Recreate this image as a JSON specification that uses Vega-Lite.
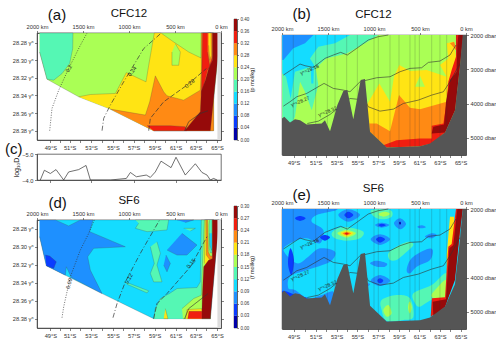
{"$schema":"https://vega.github.io/schema/vega-lite/v6.json","padding":{"left":4,"top":6,"right":0,"bottom":0},"spacing":14,
"config":{"font":"Liberation Sans","axis":{"labelFont":"Liberation Sans","labelFontSize":5.7,"labelColor":"#333","domainColor":"#333","tickColor":"#333","tickSize":2.5,"domainWidth":0.7,"tickWidth":0.6,"labelPadding":1.5,"grid":false,"title":null,"labelFlush":false,"labelOverlap":false}},
"datasets":{
"stA":[{"km":1898},{"km":1783},{"km":1659},{"km":1536},{"km":1413},{"km":1283},{"km":1167},{"km":1036},{"km":927},{"km":819},{"km":725},{"km":601},{"km":543},{"km":493},{"km":399},{"km":275},{"km":217},{"km":116}],
"stB":[{"km":1877},{"km":1634},{"km":1507},{"km":1424},{"km":1297},{"km":1181},{"km":1000},{"km":953},{"km":826},{"km":728},{"km":609},{"km":554},{"km":507},{"km":373},{"km":283},{"km":210},{"km":101},{"km":58}],
"cbA":[{"lo":0,"hi":0.04,"v":0.02},{"lo":0.04,"hi":0.08,"v":0.06},{"lo":0.08,"hi":0.12,"v":0.1},{"lo":0.12,"hi":0.16,"v":0.14},{"lo":0.16,"hi":0.2,"v":0.18},{"lo":0.2,"hi":0.24,"v":0.22},{"lo":0.24,"hi":0.28,"v":0.26},{"lo":0.28,"hi":0.32,"v":0.3},{"lo":0.32,"hi":0.36,"v":0.34},{"lo":0.36,"hi":0.4,"v":0.38}],
"cbD":[{"lo":0,"hi":0.03,"v":0.015},{"lo":0.03,"hi":0.06,"v":0.045},{"lo":0.06,"hi":0.09,"v":0.075},{"lo":0.09,"hi":0.12,"v":0.105},{"lo":0.12,"hi":0.15,"v":0.135},{"lo":0.15,"hi":0.18,"v":0.165},{"lo":0.18,"hi":0.21,"v":0.195},{"lo":0.21,"hi":0.24,"v":0.225},{"lo":0.24,"hi":0.27,"v":0.255},{"lo":0.27,"hi":0.3,"v":0.285}],
"logD":[{"km":1964,"logD":-4},{"km":1920,"logD":-4.375},{"km":1855,"logD":-4.25},{"km":1793,"logD":-4.4},{"km":1710,"logD":-4},{"km":1656,"logD":-4.31},{"km":1547,"logD":-4.4},{"km":1467,"logD":-4.56},{"km":1420,"logD":-4},{"km":1203,"logD":-4},{"km":1029,"logD":-4.06},{"km":985,"logD":-4.29},{"km":920,"logD":-4.125},{"km":812,"logD":-4.19},{"km":768,"logD":-4.1},{"km":714,"logD":-4.31},{"km":652,"logD":-4.725},{"km":543,"logD":-4.475},{"km":489,"logD":-4.875},{"km":388,"logD":-4.19},{"km":279,"logD":-4.625},{"km":207,"logD":-4.29},{"km":152,"logD":-4.19},{"km":116,"logD":-4},{"km":80,"logD":-4.06},{"km":43,"logD":-4}],
"isoA":[{"k":"d","km":1862,"s":28.38},{"k":"d","km":1837,"s":28.3547},{"k":"d","km":1764,"s":28.334},{"k":"d","km":1656,"s":28.3094},{"k":"d","km":1529,"s":28.283},{"k":"d","km":1456,"s":28.269},
{"k":"m","km":1293,"s":28.38},{"k":"m","km":1275,"s":28.366},{"k":"m","km":1203,"s":28.351},{"k":"m","km":1058,"s":28.3245},{"k":"m","km":841,"s":28.2868},{"k":"m","km":649,"s":28.269},
{"k":"h","km":786,"s":28.38},{"k":"h","km":768,"s":28.366},{"k":"h","km":623,"s":28.3472},{"k":"h","km":370,"s":28.3283},{"k":"h","km":159,"s":28.3094},
{"k":"s","km":395,"s":28.38},{"k":"s","km":351,"s":28.3698},{"k":"s","km":225,"s":28.3604},{"k":"s","km":141,"s":28.3574}],
"isoD":[{"k":"d","km":1728,"s":28.3789},{"k":"d","km":1710,"s":28.3669},{"k":"d","km":1638,"s":28.3334},{"k":"d","km":1529,"s":28.3035},{"k":"d","km":1438,"s":28.2849},{"k":"d","km":1377,"s":28.2699},
{"k":"m","km":1174,"s":28.3789},{"k":"m","km":1130,"s":28.3632},{"k":"m","km":1040,"s":28.339},{"k":"m","km":877,"s":28.3072},{"k":"m","km":667,"s":28.2699},
{"k":"h","km":732,"s":28.38},{"k":"h","km":696,"s":28.3632},{"k":"h","km":587,"s":28.352},{"k":"h","km":333,"s":28.3222},{"k":"h","km":152,"s":28.2886},
{"k":"s","km":395,"s":28.38},{"k":"s","km":351,"s":28.3688},{"k":"s","km":141,"s":28.352}],
"iso":[{"k":"28.18","km":1985,"d":3169},{"k":"28.18","km":1804,"d":2847},{"k":"28.18","km":1750,"d":2896},{"k":"28.18","km":1659,"d":2945},{"k":"28.18","km":1533,"d":2682},{"k":"28.18","km":1442,"d":2584},{"k":"28.18","km":1362,"d":2506},{"k":"28.18","km":1290,"d":2584},{"k":"28.18","km":1188,"d":2390},{"k":"28.18","km":1062,"d":2146},{"k":"28.18","km":953,"d":2049},{"k":"28.18","km":844,"d":2000},
{"k":"28.27","km":1985,"d":4075},{"k":"28.27","km":1913,"d":3948},{"k":"28.27","km":1840,"d":3802},{"k":"28.27","km":1732,"d":3705},{"k":"28.27","km":1543,"d":3412},{"k":"28.27","km":1442,"d":3558},{"k":"28.27","km":1333,"d":3607},{"k":"28.27","km":1261,"d":3656},{"k":"28.27","km":1152,"d":3364},{"k":"28.27","km":971,"d":3247},{"k":"28.27","km":826,"d":3218},{"k":"28.27","km":717,"d":3071},{"k":"28.27","km":609,"d":2974},{"k":"28.27","km":482,"d":2955},{"k":"28.27","km":409,"d":2799},{"k":"28.27","km":283,"d":2760},{"k":"28.27","km":174,"d":2584},{"k":"28.27","km":109,"d":2292},
{"k":"28.32","km":1725,"d":4581},{"k":"28.32","km":1605,"d":4513},{"k":"28.32","km":1478,"d":4318},{"k":"28.32","km":1261,"d":3851},{"k":"28.32","km":1098,"d":3899},{"k":"28.32","km":1062,"d":4094},{"k":"28.32","km":935,"d":4221},{"k":"28.32","km":790,"d":4162},{"k":"28.32","km":681,"d":3997},{"k":"28.32","km":518,"d":3899},{"k":"28.32","km":373,"d":3753},{"k":"28.32","km":246,"d":3656},{"k":"28.32","km":174,"d":3364},{"k":"28.32","km":65,"d":2828}],
"isoLbl":[{"km":1703,"d":3003,"t":"γⁿ=28.18"},{"km":1804,"d":3929,"t":"γⁿ=28.27"},{"km":1507,"d":4221,"t":"γⁿ=28.32"}],
"topo":[{"i":1,"km":2000,"d":4435},{"i":2,"km":1975,"d":4386},{"i":3,"km":1913,"d":4552},{"i":4,"km":1859,"d":4454},{"i":5,"km":1804,"d":4484},{"i":6,"km":1732,"d":4610},{"i":7,"km":1569,"d":4581},{"i":8,"km":1533,"d":4484},{"i":9,"km":1478,"d":4805},{"i":10,"km":1398,"d":4045},{"i":11,"km":1333,"d":3636},{"i":12,"km":1290,"d":3607},{"i":13,"km":1225,"d":4454},{"i":14,"km":1145,"d":3315},{"i":15,"km":1098,"d":3286},{"i":16,"km":1043,"d":4825},{"i":17,"km":862,"d":5282},{"i":18,"km":500,"d":5243},{"i":19,"km":391,"d":5166},{"i":20,"km":228,"d":4844},{"i":21,"km":120,"d":4192},{"i":22,"km":65,"d":2877},{"i":23,"km":36,"d":2000},{"i":24,"km":0,"d":2000},{"i":25,"km":0,"d":5500},{"i":26,"km":2000,"d":5500}],
"polyA":[
{"p":"g","i":1,"km":1971,"s":28.269,"v":0.22},{"p":"g","i":2,"km":7,"s":28.269,"v":0.22},{"p":"g","i":3,"km":116,"s":28.38,"v":0.22},{"p":"g","i":4,"km":732,"s":28.38,"v":0.22},{"p":"g","i":5,"km":1203,"s":28.3555,"v":0.22},{"p":"g","i":6,"km":1547,"s":28.3415,"v":0.22},{"p":"g","i":7,"km":1891,"s":28.3215,"v":0.22},{"p":"g","i":8,"km":1971,"s":28.2906,"v":0.22},
{"p":"m","i":1,"km":1971,"s":28.269,"v":0.18},{"p":"m","i":2,"km":1609,"s":28.269,"v":0.18},{"p":"m","i":3,"km":1612,"s":28.2868,"v":0.18},{"p":"m","i":4,"km":1645,"s":28.3038,"v":0.18},{"p":"m","i":5,"km":1728,"s":28.3151,"v":0.18},{"p":"m","i":6,"km":1819,"s":28.3226,"v":0.18},{"p":"m","i":7,"km":1891,"s":28.3215,"v":0.18},{"p":"m","i":8,"km":1971,"s":28.2906,"v":0.18},
{"p":"y","i":1,"km":1547,"s":28.3415,"v":0.26},{"p":"y","i":2,"km":1420,"s":28.3389,"v":0.26},{"p":"y","i":3,"km":1148,"s":28.3377,"v":0.26},{"p":"y","i":4,"km":1029,"s":28.314,"v":0.26},{"p":"y","i":5,"km":815,"s":28.3245,"v":0.26},{"p":"y","i":6,"km":786,"s":28.3057,"v":0.26},{"p":"y","i":7,"km":725,"s":28.269,"v":0.26},{"p":"y","i":8,"km":652,"s":28.269,"v":0.26},{"p":"y","i":9,"km":514,"s":28.2792,"v":0.26},{"p":"y","i":10,"km":351,"s":28.2906,"v":0.26},{"p":"y","i":11,"km":217,"s":28.2974,"v":0.26},{"p":"y","i":12,"km":214,"s":28.269,"v":0.26},{"p":"y","i":13,"km":80,"s":28.269,"v":0.26},{"p":"y","i":14,"km":80,"s":28.38,"v":0.26},{"p":"y","i":15,"km":732,"s":28.38,"v":0.26},{"p":"y","i":16,"km":1203,"s":28.3555,"v":0.26},
{"p":"gb","i":1,"km":496,"s":28.2811,"v":0.22},{"p":"gb","i":2,"km":442,"s":28.2906,"v":0.22},{"p":"gb","i":3,"km":460,"s":28.3057,"v":0.22},{"p":"gb","i":4,"km":533,"s":28.3057,"v":0.22},{"p":"gb","i":5,"km":533,"s":28.2906,"v":0.22},
{"p":"o","i":1,"km":1203,"s":28.3555,"v":0.3},{"p":"o","i":2,"km":822,"s":28.3623,"v":0.3},{"p":"o","i":3,"km":775,"s":28.3472,"v":0.3},{"p":"o","i":4,"km":714,"s":28.3177,"v":0.3},{"p":"o","i":5,"km":623,"s":28.3358,"v":0.3},{"p":"o","i":6,"km":587,"s":28.3404,"v":0.3},{"p":"o","i":7,"km":406,"s":28.3453,"v":0.3},{"p":"o","i":8,"km":225,"s":28.334,"v":0.3},{"p":"o","i":9,"km":214,"s":28.3094,"v":0.3},{"p":"o","i":10,"km":214,"s":28.269,"v":0.3},{"p":"o","i":11,"km":80,"s":28.269,"v":0.3},{"p":"o","i":12,"km":80,"s":28.38,"v":0.3},{"p":"o","i":13,"km":732,"s":28.38,"v":0.3},
{"p":"r1","i":1,"km":804,"s":28.3743,"v":0.34},{"p":"r1","i":2,"km":551,"s":28.3743,"v":0.34},{"p":"r1","i":3,"km":388,"s":28.3755,"v":0.34},{"p":"r1","i":4,"km":370,"s":28.38,"v":0.34},{"p":"r1","i":5,"km":732,"s":28.38,"v":0.34},
{"p":"r2","i":1,"km":214,"s":28.34,"v":0.34},{"p":"r2","i":2,"km":200,"s":28.269,"v":0.34},{"p":"r2","i":3,"km":91,"s":28.269,"v":0.34},{"p":"r2","i":4,"km":91,"s":28.302,"v":0.34},{"p":"r2","i":5,"km":145,"s":28.311,"v":0.34},
{"p":"o2","i":1,"km":145,"s":28.269,"v":0.3},{"p":"o2","i":2,"km":91,"s":28.269,"v":0.3},{"p":"o2","i":3,"km":91,"s":28.295,"v":0.3},{"p":"o2","i":4,"km":123,"s":28.3057,"v":0.3},{"p":"o2","i":5,"km":145,"s":28.2906,"v":0.3},
{"p":"y2","i":1,"km":134,"s":28.269,"v":0.26},{"p":"y2","i":2,"km":109,"s":28.269,"v":0.26},{"p":"y2","i":3,"km":105,"s":28.2943,"v":0.26},{"p":"y2","i":4,"km":123,"s":28.3,"v":0.26},{"p":"y2","i":5,"km":134,"s":28.283,"v":0.26},
{"p":"dr","i":1,"km":395,"s":28.38,"v":0.38},{"p":"dr","i":2,"km":225,"s":28.3585,"v":0.38},{"p":"dr","i":3,"km":214,"s":28.3351,"v":0.38},{"p":"dr","i":4,"km":170,"s":28.3226,"v":0.38},{"p":"dr","i":5,"km":134,"s":28.3094,"v":0.38},{"p":"dr","i":6,"km":91,"s":28.3,"v":0.38},{"p":"dr","i":7,"km":91,"s":28.269,"v":0.38},{"p":"dr","i":8,"km":7,"s":28.269,"v":0.38},{"p":"dr","i":9,"km":116,"s":28.38,"v":0.38}],
"polyD":[
{"p":"c","i":1,"km":1971,"s":28.2699,"v":0.105},{"p":"c","i":2,"km":25,"s":28.2699,"v":0.105},{"p":"c","i":3,"km":116,"s":28.38,"v":0.105},{"p":"c","i":4,"km":732,"s":28.38,"v":0.105},{"p":"c","i":5,"km":1293,"s":28.352,"v":0.105},{"p":"c","i":6,"km":1898,"s":28.321,"v":0.105},{"p":"c","i":7,"km":1971,"s":28.2886,"v":0.105},
{"p":"b","i":1,"km":1971,"s":28.2699,"v":0.075},{"p":"b","i":2,"km":1801,"s":28.2699,"v":0.075},{"p":"b","i":3,"km":1656,"s":28.2766,"v":0.075},{"p":"b","i":4,"km":1529,"s":28.2699,"v":0.075},{"p":"b","i":5,"km":1391,"s":28.2699,"v":0.075},{"p":"b","i":6,"km":1427,"s":28.283,"v":0.075},{"p":"b","i":7,"km":1040,"s":28.2998,"v":0.075},{"p":"b","i":8,"km":1384,"s":28.3016,"v":0.075},{"p":"b","i":9,"km":1449,"s":28.311,"v":0.075},{"p":"b","i":10,"km":1420,"s":28.3259,"v":0.075},{"p":"b","i":11,"km":1293,"s":28.352,"v":0.075},{"p":"b","i":12,"km":1627,"s":28.3341,"v":0.075},{"p":"b","i":13,"km":1681,"s":28.3222,"v":0.075},{"p":"b","i":14,"km":1692,"s":28.3315,"v":0.075},{"p":"b","i":15,"km":1898,"s":28.321,"v":0.075},{"p":"b","i":16,"km":1971,"s":28.2886,"v":0.075},
{"p":"n","i":1,"km":1909,"s":28.3091,"v":0.045},{"p":"n","i":2,"km":1862,"s":28.3102,"v":0.045},{"p":"n","i":3,"km":1790,"s":28.3166,"v":0.045},{"p":"n","i":4,"km":1819,"s":28.324,"v":0.045},{"p":"n","i":5,"km":1898,"s":28.321,"v":0.045},
{"p":"m1","i":1,"km":931,"s":28.2699,"v":0.135},{"p":"m1","i":2,"km":569,"s":28.2699,"v":0.135},{"p":"m1","i":3,"km":587,"s":28.2811,"v":0.135},{"p":"m1","i":4,"km":804,"s":28.283,"v":0.135},{"p":"m1","i":5,"km":931,"s":28.2793,"v":0.135},{"p":"m1","i":6,"km":895,"s":28.2737,"v":0.135},
{"p":"m2","i":1,"km":696,"s":28.2942,"v":0.135},{"p":"m2","i":2,"km":659,"s":28.3072,"v":0.135},{"p":"m2","i":3,"km":696,"s":28.3203,"v":0.135},{"p":"m2","i":4,"km":641,"s":28.339,"v":0.135},{"p":"m2","i":5,"km":732,"s":28.339,"v":0.135},{"p":"m2","i":6,"km":768,"s":28.3296,"v":0.135},{"p":"m2","i":7,"km":725,"s":28.3184,"v":0.135},{"p":"m2","i":8,"km":768,"s":28.2998,"v":0.135},
{"p":"m3","i":1,"km":1040,"s":28.339,"v":0.135},{"p":"m3","i":2,"km":786,"s":28.349,"v":0.135},{"p":"m3","i":3,"km":804,"s":28.3513,"v":0.135},{"p":"m3","i":4,"km":1022,"s":28.3416,"v":0.135},
{"p":"m4","i":1,"km":732,"s":28.38,"v":0.135},{"p":"m4","i":2,"km":714,"s":28.3688,"v":0.135},{"p":"m4","i":3,"km":659,"s":28.3576,"v":0.135},{"p":"m4","i":4,"km":551,"s":28.3513,"v":0.135},{"p":"m4","i":5,"km":478,"s":28.3464,"v":0.135},{"p":"m4","i":6,"km":261,"s":28.3453,"v":0.135},{"p":"m4","i":7,"km":225,"s":28.339,"v":0.135},{"p":"m4","i":8,"km":214,"s":28.2699,"v":0.135},{"p":"m4","i":9,"km":80,"s":28.2699,"v":0.135},{"p":"m4","i":10,"km":116,"s":28.38,"v":0.135},
{"p":"m5","i":1,"km":406,"s":28.2793,"v":0.135},{"p":"m5","i":2,"km":279,"s":28.2793,"v":0.135},{"p":"m5","i":3,"km":333,"s":28.2822,"v":0.135},
{"p":"b1","i":1,"km":424,"s":28.2849,"v":0.075},{"p":"b1","i":2,"km":261,"s":28.2979,"v":0.075},{"p":"b1","i":3,"km":370,"s":28.3091,"v":0.075},{"p":"b1","i":4,"km":478,"s":28.3091,"v":0.075},{"p":"b1","i":5,"km":587,"s":28.3035,"v":0.075},
{"p":"b2","i":1,"km":598,"s":28.3091,"v":0.075},{"p":"b2","i":2,"km":551,"s":28.3184,"v":0.075},{"p":"b2","i":3,"km":587,"s":28.3278,"v":0.075},{"p":"b2","i":4,"km":623,"s":28.3203,"v":0.075},
{"p":"b3","i":1,"km":478,"s":28.2699,"v":0.075},{"p":"b3","i":2,"km":297,"s":28.2699,"v":0.075},{"p":"b3","i":3,"km":388,"s":28.2729,"v":0.075},
{"p":"l1","i":1,"km":424,"s":28.3688,"v":0.165},{"p":"l1","i":2,"km":297,"s":28.3576,"v":0.165},{"p":"l1","i":3,"km":214,"s":28.3539,"v":0.165},{"p":"l1","i":4,"km":203,"s":28.3222,"v":0.165},{"p":"l1","i":5,"km":181,"s":28.2699,"v":0.165},{"p":"l1","i":6,"km":80,"s":28.2699,"v":0.165},{"p":"l1","i":7,"km":116,"s":28.38,"v":0.165},{"p":"l1","i":8,"km":413,"s":28.38,"v":0.165},
{"p":"y0","i":1,"km":605,"s":28.3688,"v":0.195},{"p":"y0","i":2,"km":576,"s":28.38,"v":0.195},{"p":"y0","i":3,"km":623,"s":28.38,"v":0.195},
{"p":"y1","i":1,"km":181,"s":28.3184,"v":0.195},{"p":"y1","i":2,"km":170,"s":28.2699,"v":0.195},{"p":"y1","i":3,"km":80,"s":28.2699,"v":0.195},{"p":"y1","i":4,"km":80,"s":28.322,"v":0.195},
{"p":"o1","i":1,"km":159,"s":28.2699,"v":0.225},{"p":"o1","i":2,"km":159,"s":28.3091,"v":0.225},{"p":"o1","i":3,"km":127,"s":28.3136,"v":0.225},{"p":"o1","i":4,"km":80,"s":28.3136,"v":0.225},{"p":"o1","i":5,"km":80,"s":28.2699,"v":0.225},
{"p":"l2","i":1,"km":145,"s":28.2699,"v":0.165},{"p":"l2","i":2,"km":138,"s":28.3054,"v":0.165},{"p":"l2","i":3,"km":116,"s":28.3102,"v":0.165},{"p":"l2","i":4,"km":94,"s":28.3102,"v":0.165},{"p":"l2","i":5,"km":94,"s":28.2699,"v":0.165},
{"p":"m6","i":1,"km":123,"s":28.2699,"v":0.135},{"p":"m6","i":2,"km":130,"s":28.2755,"v":0.135},{"p":"m6","i":3,"km":127,"s":28.3016,"v":0.135},{"p":"m6","i":4,"km":116,"s":28.3065,"v":0.135},{"p":"m6","i":5,"km":98,"s":28.3065,"v":0.135},{"p":"m6","i":6,"km":98,"s":28.2699,"v":0.135},
{"p":"c2","i":1,"km":123,"s":28.2849,"v":0.105},{"p":"c2","i":2,"km":120,"s":28.2979,"v":0.105},{"p":"c2","i":3,"km":105,"s":28.3035,"v":0.105},{"p":"c2","i":4,"km":98,"s":28.3035,"v":0.105},{"p":"c2","i":5,"km":98,"s":28.2849,"v":0.105},
{"p":"y2","i":1,"km":384,"s":28.38,"v":0.195},{"p":"y2","i":2,"km":370,"s":28.3699,"v":0.195},{"p":"y2","i":3,"km":207,"s":28.3688,"v":0.195},{"p":"y2","i":4,"km":207,"s":28.38,"v":0.195},
{"p":"r1","i":1,"km":362,"s":28.38,"v":0.255},{"p":"r1","i":2,"km":348,"s":28.3718,"v":0.255},{"p":"r1","i":3,"km":207,"s":28.3718,"v":0.255},{"p":"r1","i":4,"km":207,"s":28.38,"v":0.255},
{"p":"dr","i":1,"km":207,"s":28.3707,"v":0.285},{"p":"dr","i":2,"km":203,"s":28.3539,"v":0.285},{"p":"dr","i":3,"km":188,"s":28.3222,"v":0.285},{"p":"dr","i":4,"km":134,"s":28.3147,"v":0.285},{"p":"dr","i":5,"km":94,"s":28.3132,"v":0.285},{"p":"dr","i":6,"km":94,"s":28.2699,"v":0.285},{"p":"dr","i":7,"km":22,"s":28.2699,"v":0.285},{"p":"dr","i":8,"km":116,"s":28.38,"v":0.285},{"p":"dr","i":9,"km":207,"s":28.38,"v":0.285}],
"polyB":[
{"p":"g","i":1,"km":2000,"d":2000,"v":0.22},{"p":"g","i":2,"km":0,"d":2000,"v":0.22},{"p":"g","i":3,"km":0,"d":5500,"v":0.22},{"p":"g","i":4,"km":2000,"d":5500,"v":0.22},
{"p":"m","i":1,"km":1996,"d":2000,"v":0.18},{"p":"m","i":2,"km":953,"d":2000,"v":0.18},{"p":"m","i":3,"km":1098,"d":2244,"v":0.18},{"p":"m","i":4,"km":1297,"d":2536,"v":0.18},{"p":"m","i":5,"km":1522,"d":2682,"v":0.18},{"p":"m","i":6,"km":1634,"d":2974,"v":0.18},{"p":"m","i":7,"km":1605,"d":3461,"v":0.18},{"p":"m","i":8,"km":1677,"d":4192,"v":0.18},{"p":"m","i":9,"km":1750,"d":3656,"v":0.18},{"p":"m","i":10,"km":1804,"d":3364,"v":0.18},{"p":"m","i":11,"km":1859,"d":4386,"v":0.18},{"p":"m","i":12,"km":1895,"d":4581,"v":0.18},{"p":"m","i":13,"km":1996,"d":4581,"v":0.18},
{"p":"c","i":1,"km":1996,"d":2000,"v":0.14},{"p":"c","i":2,"km":1261,"d":2000,"v":0.14},{"p":"c","i":3,"km":1424,"d":2244,"v":0.14},{"p":"c","i":4,"km":1605,"d":2341,"v":0.14},{"p":"c","i":5,"km":1696,"d":2682,"v":0.14},{"p":"c","i":6,"km":1652,"d":2877,"v":0.14},{"p":"c","i":7,"km":1659,"d":3412,"v":0.14},{"p":"c","i":8,"km":1681,"d":3412,"v":0.14},{"p":"c","i":9,"km":1688,"d":2925,"v":0.14},{"p":"c","i":10,"km":1859,"d":3071,"v":0.14},{"p":"c","i":11,"km":1906,"d":3851,"v":0.14},{"p":"c","i":12,"km":1956,"d":3218,"v":0.14},{"p":"c","i":13,"km":1996,"d":3120,"v":0.14},
{"p":"b","i":1,"km":1996,"d":2000,"v":0.1},{"p":"b","i":2,"km":1659,"d":2000,"v":0.1},{"p":"b","i":3,"km":1750,"d":2244,"v":0.1},{"p":"b","i":4,"km":1877,"d":2390,"v":0.1},{"p":"b","i":5,"km":1985,"d":2730,"v":0.1},{"p":"b","i":6,"km":1996,"d":2730,"v":0.1},
{"p":"y","i":1,"km":1054,"d":4825,"v":0.26},{"p":"y","i":2,"km":1080,"d":4045,"v":0.26},{"p":"y","i":3,"km":942,"d":3412,"v":0.26},{"p":"y","i":4,"km":826,"d":3948,"v":0.26},{"p":"y","i":5,"km":783,"d":3218,"v":0.26},{"p":"y","i":6,"km":725,"d":2877,"v":0.26},{"p":"y","i":7,"km":609,"d":3052,"v":0.26},{"p":"y","i":8,"km":428,"d":3023,"v":0.26},{"p":"y","i":9,"km":210,"d":3218,"v":0.26},{"p":"y","i":10,"km":283,"d":2877,"v":0.26},{"p":"y","i":11,"km":192,"d":2682,"v":0.26},{"p":"y","i":12,"km":210,"d":2244,"v":0.26},{"p":"y","i":13,"km":138,"d":2195,"v":0.26},{"p":"y","i":14,"km":94,"d":2877,"v":0.26},{"p":"y","i":15,"km":174,"d":3948,"v":0.26},{"p":"y","i":16,"km":210,"d":4727,"v":0.26},{"p":"y","i":17,"km":862,"d":5282,"v":0.26},
{"p":"gh","i":1,"km":500,"d":3188,"v":0.22},{"p":"gh","i":2,"km":446,"d":3510,"v":0.22},{"p":"gh","i":3,"km":554,"d":3510,"v":0.22},
{"p":"o","i":1,"km":1051,"d":4581,"v":0.3},{"p":"o","i":2,"km":971,"d":4581,"v":0.3},{"p":"o","i":3,"km":826,"d":4805,"v":0.3},{"p":"o","i":4,"km":728,"d":3753,"v":0.3},{"p":"o","i":5,"km":609,"d":4123,"v":0.3},{"p":"o","i":6,"km":500,"d":4162,"v":0.3},{"p":"o","i":7,"km":210,"d":3948,"v":0.3},{"p":"o","i":8,"km":185,"d":3315,"v":0.3},{"p":"o","i":9,"km":109,"d":2925,"v":0.3},{"p":"o","i":10,"km":94,"d":2487,"v":0.3},{"p":"o","i":11,"km":174,"d":2244,"v":0.3},{"p":"o","i":12,"km":130,"d":2195,"v":0.3},{"p":"o","i":13,"km":83,"d":2584,"v":0.3},{"p":"o","i":14,"km":65,"d":2877,"v":0.3},{"p":"o","i":15,"km":120,"d":4192,"v":0.3},{"p":"o","i":16,"km":228,"d":4844,"v":0.3},{"p":"o","i":17,"km":373,"d":5166,"v":0.3},{"p":"o","i":18,"km":500,"d":5243,"v":0.3},{"p":"o","i":19,"km":862,"d":5282,"v":0.3},{"p":"o","i":20,"km":1043,"d":4825,"v":0.3},
{"p":"r","i":1,"km":899,"d":5214,"v":0.34},{"p":"r","i":2,"km":754,"d":5068,"v":0.34},{"p":"r","i":3,"km":500,"d":5019,"v":0.34},{"p":"r","i":4,"km":373,"d":5019,"v":0.34},{"p":"r","i":5,"km":373,"d":4649,"v":0.34},{"p":"r","i":6,"km":246,"d":4581,"v":0.34},{"p":"r","i":7,"km":210,"d":3948,"v":0.34},{"p":"r","i":8,"km":192,"d":3364,"v":0.34},{"p":"r","i":9,"km":156,"d":3023,"v":0.34},{"p":"r","i":10,"km":109,"d":2633,"v":0.34},{"p":"r","i":11,"km":109,"d":2000,"v":0.34},{"p":"r","i":12,"km":29,"d":2000,"v":0.34},{"p":"r","i":13,"km":65,"d":2877,"v":0.34},{"p":"r","i":14,"km":120,"d":4192,"v":0.34},{"p":"r","i":15,"km":228,"d":4844,"v":0.34},{"p":"r","i":16,"km":373,"d":5166,"v":0.34},{"p":"r","i":17,"km":500,"d":5243,"v":0.34},{"p":"r","i":18,"km":862,"d":5282,"v":0.34},
{"p":"dr","i":1,"km":373,"d":4873,"v":0.38},{"p":"dr","i":2,"km":355,"d":4679,"v":0.38},{"p":"dr","i":3,"km":239,"d":4610,"v":0.38},{"p":"dr","i":4,"km":217,"d":3948,"v":0.38},{"p":"dr","i":5,"km":174,"d":3315,"v":0.38},{"p":"dr","i":6,"km":101,"d":3071,"v":0.38},{"p":"dr","i":7,"km":94,"d":2292,"v":0.38},{"p":"dr","i":8,"km":83,"d":2000,"v":0.38},{"p":"dr","i":9,"km":29,"d":2000,"v":0.38},{"p":"dr","i":10,"km":65,"d":2877,"v":0.38},{"p":"dr","i":11,"km":120,"d":4192,"v":0.38},{"p":"dr","i":12,"km":228,"d":4844,"v":0.38}],
"polyE":[
{"p":"c","i":1,"km":2000,"d":2000,"v":0.105},{"p":"c","i":2,"km":0,"d":2000,"v":0.105},{"p":"c","i":3,"km":0,"d":5500,"v":0.105},{"p":"c","i":4,"km":2000,"d":5500,"v":0.105},
{"p":"a1","i":1,"km":1996,"d":2000,"v":0.075},{"p":"a1","i":2,"km":1406,"d":2000,"v":0.075},{"p":"a1","i":3,"km":1623,"d":2175,"v":0.075},{"p":"a1","i":4,"km":1677,"d":2369,"v":0.075},{"p":"a1","i":5,"km":1551,"d":2612,"v":0.075},{"p":"a1","i":6,"km":1587,"d":3001,"v":0.075},{"p":"a1","i":7,"km":1732,"d":2855,"v":0.075},{"p":"a1","i":8,"km":1877,"d":2953,"v":0.075},{"p":"a1","i":9,"km":1985,"d":3196,"v":0.075},{"p":"a1","i":10,"km":1840,"d":3584,"v":0.075},{"p":"a1","i":11,"km":1714,"d":3390,"v":0.075},{"p":"a1","i":12,"km":1587,"d":3147,"v":0.075},{"p":"a1","i":13,"km":1424,"d":3244,"v":0.075},{"p":"a1","i":14,"km":1478,"d":3536,"v":0.075},{"p":"a1","i":15,"km":1732,"d":3779,"v":0.075},{"p":"a1","i":16,"km":1913,"d":3973,"v":0.075},{"p":"a1","i":17,"km":1931,"d":4313,"v":0.075},{"p":"a1","i":18,"km":1859,"d":4362,"v":0.075},{"p":"a1","i":19,"km":1714,"d":4605,"v":0.075},{"p":"a1","i":20,"km":1569,"d":4508,"v":0.075},{"p":"a1","i":21,"km":1442,"d":4411,"v":0.075},{"p":"a1","i":22,"km":1478,"d":4848,"v":0.075},{"p":"a1","i":23,"km":1996,"d":4654,"v":0.075},
{"p":"a2","i":1,"km":1388,"d":2175,"v":0.075},{"p":"a2","i":2,"km":1279,"d":2010,"v":0.075},{"p":"a2","i":3,"km":1152,"d":2175,"v":0.075},{"p":"a2","i":4,"km":1279,"d":2369,"v":0.075},
{"p":"n2","i":1,"km":1322,"d":2175,"v":0.045},{"p":"n2","i":2,"km":1279,"d":2078,"v":0.045},{"p":"n2","i":3,"km":1225,"d":2175,"v":0.045},{"p":"n2","i":4,"km":1279,"d":2272,"v":0.045},
{"p":"a3","i":1,"km":989,"d":2467,"v":0.075},{"p":"a3","i":2,"km":917,"d":2399,"v":0.075},{"p":"a3","i":3,"km":833,"d":2467,"v":0.075},{"p":"a3","i":4,"km":917,"d":2544,"v":0.075},
{"p":"n3","i":1,"km":953,"d":2467,"v":0.045},{"p":"n3","i":2,"km":917,"d":2428,"v":0.045},{"p":"n3","i":3,"km":870,"d":2467,"v":0.045},{"p":"n3","i":4,"km":917,"d":2515,"v":0.045},
{"p":"a4","i":1,"km":1036,"d":2884,"v":0.075},{"p":"a4","i":2,"km":935,"d":2739,"v":0.075},{"p":"a4","i":3,"km":826,"d":2884,"v":0.075},{"p":"a4","i":4,"km":935,"d":3050,"v":0.075},
{"p":"n4","i":1,"km":978,"d":2884,"v":0.045},{"p":"n4","i":2,"km":935,"d":2807,"v":0.045},{"p":"n4","i":3,"km":880,"d":2884,"v":0.045},{"p":"n4","i":4,"km":935,"d":2982,"v":0.045},
{"p":"a5","i":1,"km":783,"d":2418,"v":0.075},{"p":"a5","i":2,"km":717,"d":2272,"v":0.075},{"p":"a5","i":3,"km":652,"d":2437,"v":0.075},{"p":"a5","i":4,"km":717,"d":2593,"v":0.075},
{"p":"n5","i":1,"km":728,"d":2399,"v":0.015},{"p":"n5","i":2,"km":714,"d":2369,"v":0.015},{"p":"n5","i":3,"km":707,"d":2418,"v":0.015},{"p":"n5","i":4,"km":717,"d":2457,"v":0.015},
{"p":"a6","i":1,"km":529,"d":2515,"v":0.075},{"p":"a6","i":2,"km":482,"d":2476,"v":0.075},{"p":"a6","i":3,"km":435,"d":2535,"v":0.075},{"p":"a6","i":4,"km":493,"d":2564,"v":0.075},
{"p":"a7","i":1,"km":446,"d":2807,"v":0.075},{"p":"a7","i":2,"km":373,"d":2710,"v":0.075},{"p":"a7","i":3,"km":319,"d":2758,"v":0.075},{"p":"a7","i":4,"km":373,"d":2855,"v":0.075},
{"p":"a8","i":1,"km":645,"d":3779,"v":0.075},{"p":"a8","i":2,"km":591,"d":3439,"v":0.075},{"p":"a8","i":3,"km":428,"d":3176,"v":0.075},{"p":"a8","i":4,"km":362,"d":3196,"v":0.075},{"p":"a8","i":5,"km":391,"d":3487,"v":0.075},{"p":"a8","i":6,"km":536,"d":3682,"v":0.075},{"p":"a8","i":7,"km":609,"d":3876,"v":0.075},
{"p":"a9","i":1,"km":1043,"d":3584,"v":0.075},{"p":"a9","i":2,"km":971,"d":3507,"v":0.075},{"p":"a9","i":3,"km":862,"d":3584,"v":0.075},{"p":"a9","i":4,"km":880,"d":3682,"v":0.075},{"p":"a9","i":5,"km":971,"d":3682,"v":0.075},
{"p":"a10","i":1,"km":1036,"d":4090,"v":0.075},{"p":"a10","i":2,"km":935,"d":3925,"v":0.075},{"p":"a10","i":3,"km":826,"d":4090,"v":0.075},{"p":"a10","i":4,"km":935,"d":4245,"v":0.075},
{"p":"n10","i":1,"km":964,"d":4090,"v":0.045},{"p":"n10","i":2,"km":935,"d":4022,"v":0.045},{"p":"n10","i":3,"km":899,"d":4090,"v":0.045},{"p":"n10","i":4,"km":935,"d":4168,"v":0.045},
{"p":"a11","i":1,"km":743,"d":5013,"v":0.075},{"p":"a11","i":2,"km":717,"d":4926,"v":0.075},{"p":"a11","i":3,"km":688,"d":5013,"v":0.075},{"p":"a11","i":4,"km":717,"d":5110,"v":0.075},
{"p":"a12","i":1,"km":1080,"d":4168,"v":0.075},{"p":"a12","i":2,"km":1043,"d":4187,"v":0.075},{"p":"a12","i":3,"km":1072,"d":4265,"v":0.075},
{"p":"n6","i":1,"km":1931,"d":3390,"v":0.045},{"p":"n6","i":2,"km":1906,"d":3147,"v":0.045},{"p":"n6","i":3,"km":1870,"d":3487,"v":0.045},{"p":"n6","i":4,"km":1895,"d":3925,"v":0.045},{"p":"n6","i":5,"km":1931,"d":3682,"v":0.045},
{"p":"n7","i":1,"km":1985,"d":4381,"v":0.045},{"p":"n7","i":2,"km":1840,"d":4508,"v":0.045},{"p":"n7","i":3,"km":1714,"d":4605,"v":0.045},{"p":"n7","i":4,"km":1877,"d":4585,"v":0.045},{"p":"n7","i":5,"km":1985,"d":4508,"v":0.045},
{"p":"n8","i":1,"km":1859,"d":2272,"v":0.045},{"p":"n8","i":2,"km":1804,"d":2204,"v":0.045},{"p":"n8","i":3,"km":1743,"d":2272,"v":0.045},{"p":"n8","i":4,"km":1804,"d":2350,"v":0.045},
{"p":"n9","i":1,"km":1587,"d":2826,"v":0.045},{"p":"n9","i":2,"km":1533,"d":2758,"v":0.045},{"p":"n9","i":3,"km":1478,"d":2826,"v":0.045},{"p":"n9","i":4,"km":1533,"d":2923,"v":0.045},
{"p":"m1","i":1,"km":1460,"d":2710,"v":0.135},{"p":"m1","i":2,"km":1388,"d":2564,"v":0.135},{"p":"m1","i":3,"km":1261,"d":2544,"v":0.135},{"p":"m1","i":4,"km":1116,"d":2661,"v":0.135},{"p":"m1","i":5,"km":1152,"d":2855,"v":0.135},{"p":"m1","i":6,"km":1297,"d":2923,"v":0.135},{"p":"m1","i":7,"km":1424,"d":2855,"v":0.135},
{"p":"l1","i":1,"km":1398,"d":2710,"v":0.165},{"p":"l1","i":2,"km":1297,"d":2612,"v":0.165},{"p":"l1","i":3,"km":1196,"d":2710,"v":0.165},{"p":"l1","i":4,"km":1297,"d":2836,"v":0.165},
{"p":"y1","i":1,"km":1362,"d":2710,"v":0.195},{"p":"y1","i":2,"km":1297,"d":2651,"v":0.195},{"p":"y1","i":3,"km":1225,"d":2710,"v":0.195},{"p":"y1","i":4,"km":1297,"d":2797,"v":0.195},
{"p":"o1","i":1,"km":1341,"d":2710,"v":0.225},{"p":"o1","i":2,"km":1297,"d":2671,"v":0.225},{"p":"o1","i":3,"km":1250,"d":2710,"v":0.225},{"p":"o1","i":4,"km":1297,"d":2768,"v":0.225},
{"p":"r1","i":1,"km":1322,"d":2710,"v":0.255},{"p":"r1","i":2,"km":1297,"d":2690,"v":0.255},{"p":"r1","i":3,"km":1272,"d":2710,"v":0.255},{"p":"r1","i":4,"km":1297,"d":2749,"v":0.255},
{"p":"m2","i":1,"km":1025,"d":2029,"v":0.135},{"p":"m2","i":2,"km":826,"d":2029,"v":0.135},{"p":"m2","i":3,"km":808,"d":2224,"v":0.135},{"p":"m2","i":4,"km":917,"d":2302,"v":0.135},{"p":"m2","i":5,"km":1007,"d":2204,"v":0.135},
{"p":"l2","i":1,"km":953,"d":2146,"v":0.165},{"p":"l2","i":2,"km":881,"d":2078,"v":0.165},{"p":"l2","i":3,"km":826,"d":2146,"v":0.165},{"p":"l2","i":4,"km":899,"d":2224,"v":0.165},
{"p":"m3","i":1,"km":844,"d":3293,"v":0.135},{"p":"m3","i":2,"km":754,"d":3098,"v":0.135},{"p":"m3","i":3,"km":627,"d":2953,"v":0.135},{"p":"m3","i":4,"km":572,"d":3050,"v":0.135},{"p":"m3","i":5,"km":663,"d":3293,"v":0.135},{"p":"m3","i":6,"km":754,"d":3487,"v":0.135},{"p":"m3","i":7,"km":826,"d":3487,"v":0.135},
{"p":"m4","i":1,"km":917,"d":4654,"v":0.135},{"p":"m4","i":2,"km":754,"d":4508,"v":0.135},{"p":"m4","i":3,"km":609,"d":4605,"v":0.135},{"p":"m4","i":4,"km":572,"d":5140,"v":0.135},{"p":"m4","i":5,"km":681,"d":5236,"v":0.135},{"p":"m4","i":6,"km":862,"d":5256,"v":0.135},{"p":"m4","i":7,"km":917,"d":4945,"v":0.135},
{"p":"l3","i":1,"km":899,"d":4945,"v":0.165},{"p":"l3","i":2,"km":844,"d":4800,"v":0.165},{"p":"l3","i":3,"km":808,"d":5042,"v":0.165},{"p":"l3","i":4,"km":862,"d":5140,"v":0.165},
{"p":"l4","i":1,"km":616,"d":4702,"v":0.165},{"p":"l4","i":2,"km":590,"d":4848,"v":0.165},{"p":"l4","i":3,"km":609,"d":5042,"v":0.165},{"p":"l4","i":4,"km":630,"d":4896,"v":0.165},
{"p":"m5","i":1,"km":572,"d":4459,"v":0.135},{"p":"m5","i":2,"km":373,"d":4216,"v":0.135},{"p":"m5","i":3,"km":210,"d":3876,"v":0.135},{"p":"m5","i":4,"km":228,"d":4654,"v":0.135},{"p":"m5","i":5,"km":373,"d":4654,"v":0.135},{"p":"m5","i":6,"km":500,"d":4848,"v":0.135},{"p":"m5","i":7,"km":554,"d":4751,"v":0.135},
{"p":"l5","i":1,"km":373,"d":4556,"v":0.165},{"p":"l5","i":2,"km":319,"d":4313,"v":0.165},{"p":"l5","i":3,"km":210,"d":4070,"v":0.165},{"p":"l5","i":4,"km":217,"d":4605,"v":0.165},
{"p":"y2","i":1,"km":210,"d":3341,"v":0.195},{"p":"y2","i":2,"km":174,"d":2224,"v":0.195},{"p":"y2","i":3,"km":130,"d":2224,"v":0.195},{"p":"y2","i":4,"km":120,"d":2710,"v":0.195},{"p":"y2","i":5,"km":156,"d":3293,"v":0.195},{"p":"y2","i":6,"km":210,"d":4605,"v":0.195},
{"p":"r2","i":1,"km":384,"d":5140,"v":0.255},{"p":"r2","i":2,"km":370,"d":4605,"v":0.255},{"p":"r2","i":3,"km":228,"d":4576,"v":0.255},{"p":"r2","i":4,"km":192,"d":3098,"v":0.255},{"p":"r2","i":5,"km":156,"d":3021,"v":0.255},{"p":"r2","i":6,"km":109,"d":2000,"v":0.255},{"p":"r2","i":7,"km":36,"d":2000,"v":0.255},{"p":"r2","i":8,"km":65,"d":2612,"v":0.255},{"p":"r2","i":9,"km":120,"d":3925,"v":0.255},{"p":"r2","i":10,"km":228,"d":4848,"v":0.255},
{"p":"dr","i":1,"km":355,"d":5140,"v":0.285},{"p":"dr","i":2,"km":362,"d":4702,"v":0.285},{"p":"dr","i":3,"km":217,"d":4634,"v":0.285},{"p":"dr","i":4,"km":181,"d":3147,"v":0.285},{"p":"dr","i":5,"km":138,"d":3050,"v":0.285},{"p":"dr","i":6,"km":94,"d":2000,"v":0.285},{"p":"dr","i":7,"km":36,"d":2000,"v":0.285},{"p":"dr","i":8,"km":65,"d":2612,"v":0.285},{"p":"dr","i":9,"km":120,"d":4070,"v":0.285},{"p":"dr","i":10,"km":228,"d":4848,"v":0.285}]
},
"hconcat":[
{"spacing":5,"resolve":{"scale":{"fill":"independent","strokeDash":"independent"}},"hconcat":[
{"bounds":"flush","spacing":0,"resolve":{"scale":{"fill":"independent","strokeDash":"independent"}},"vconcat":[
{"width":184,"height":14,"data":{"values":[]},"mark":{"type":"rule"},"encoding":{},"view":{"stroke":null}},
{"width":184,"height":107,"view":{"stroke":"#333","strokeWidth":0.7},"resolve":{"axis":{"x":"independent","y":"independent"}},
"layer":[
{"data":{"name":"polyA"},"mark":{"type":"line","filled":true,"stroke":"#444","strokeWidth":0.25},"encoding":{"x":{"field":"km","type":"quantitative","scale":{"domain":[2000,0],"nice":false,"zero":false},"axis":{"orient":"top","values":[2000,1500,1000,500,0],"labelExpr":"datum.value+' km'"}},"y":{"field":"s","type":"quantitative","scale":{"domain":[28.269,28.3906],"reverse":true,"nice":false,"zero":false},"axis":{"orient":"left","values":[28.28,28.3,28.32,28.34,28.36,28.38],"labelExpr":"format(datum.value,'.2f')+' γⁿ'"}},"detail":{"field":"p"},"order":{"field":"i"},"fill":{"field":"v","type":"quantitative","scale":{"type":"threshold","domain":[0.04,0.08,0.12,0.16,0.2,0.24,0.28,0.32,0.36],"range":["#0000a8","#0a3cff","#1e90ff","#14dcff","#55f7b4","#aaff55","#ffe414","#ff8a14","#f01e10","#960a0a"]},"legend":null}}},
{"data":{"name":"stA"},"mark":{"type":"rule","color":"#777","opacity":0.4,"strokeWidth":0.9},"encoding":{"x":{"field":"km","type":"quantitative","axis":{"orient":"bottom","values":[1855,1750,1645,1529,1413,1293,1174,1061,949,835,721,607,493,384,275,159,43],"labelExpr":"{'1855':'49°S','1645':'51°S','1413':'53°S','1174':'55°S','949':'57°S','721':'59°S','493':'61°S','275':'63°S','43':'65°S'}[''+datum.value]||''"}},"y":{"field":"s","type":"quantitative","axis":{"orient":"right","values":[28.28,28.3,28.32,28.34,28.36,28.38],"labels":false}}}},
{"data":{"values":[{"km":20}]},"mark":{"type":"rule","color":"#ddd","strokeWidth":3.5},"encoding":{"x":{"field":"km","type":"quantitative","axis":null}}},
{"data":{"name":"isoA"},"mark":{"type":"line","color":"#333","strokeWidth":0.7},"encoding":{"x":{"field":"km","type":"quantitative","axis":null},"y":{"field":"s","type":"quantitative","axis":null},"detail":{"field":"k"},"order":{"field":"km","sort":"descending"},"strokeDash":{"field":"k","type":"nominal","scale":{"domain":["d","m","h","s"],"range":[[1,1.5],[5,2,1,2],[5,2],[1,0]]},"legend":null}}},
{"data":{"values":[{"km":1656,"s":28.3094,"t":"0.2"}]},"mark":{"type":"text","angle":-60,"fontSize":5.5,"color":"#222"},"encoding":{"x":{"field":"km","type":"quantitative","axis":null},"y":{"field":"s","type":"quantitative","axis":null},"text":{"field":"t"}}},
{"data":{"values":[{"km":967,"s":28.3125,"t":"0.24"}]},"mark":{"type":"text","angle":-55,"fontSize":5.5,"color":"#222"},"encoding":{"x":{"field":"km","type":"quantitative","axis":null},"y":{"field":"s","type":"quantitative","axis":null},"text":{"field":"t"}}},
{"data":{"values":[{"km":341,"s":28.3264,"t":"0.28"}]},"mark":{"type":"text","angle":-40,"fontSize":5.5,"color":"#222"},"encoding":{"x":{"field":"km","type":"quantitative","axis":null},"y":{"field":"s","type":"quantitative","axis":null},"text":{"field":"t"}}},
{"data":{"values":[{"km":1783,"s":28.2483,"t":"(a)"}]},"mark":{"type":"text","fontSize":15,"color":"#111"},"encoding":{"x":{"field":"km","type":"quantitative","axis":null},"y":{"field":"s","type":"quantitative","axis":null},"text":{"field":"t"}}},
{"data":{"values":[{"km":1000,"s":28.2475,"t":"CFC12"}]},"mark":{"type":"text","fontSize":11.5,"color":"#111"},"encoding":{"x":{"field":"km","type":"quantitative","axis":null},"y":{"field":"s","type":"quantitative","axis":null},"text":{"field":"t"}}}
]},
{"width":184,"height":14,"data":{"values":[]},"mark":{"type":"rule"},"encoding":{},"view":{"stroke":null}},
{"width":184,"height":26,"view":{"stroke":"#333","strokeWidth":0.7},
"layer":[
{"data":{"name":"logD"},"mark":{"type":"line","color":"#333","strokeWidth":0.7,"clip":true},"encoding":{"x":{"field":"km","type":"quantitative","scale":{"domain":[2000,0],"nice":false,"zero":false},"axis":{"orient":"bottom","values":[1855,1645,1413,1174,949,721,493,275,43],"labels":false}},"y":{"field":"logD","type":"quantitative","scale":{"domain":[-5,-4],"reverse":true,"nice":false,"zero":false},"axis":{"values":[-5,-4.5,-4],"format":".1f","title":"log₁₀D","titleFontSize":7,"titleFontWeight":"normal","titleColor":"#222","titlePadding":2}}}},
{"data":{"values":[{"km":2254,"logD":-5.19,"t":"(c)"}]},"mark":{"type":"text","fontSize":15,"color":"#111"},"encoding":{"x":{"field":"km","type":"quantitative"},"y":{"field":"logD","type":"quantitative"},"text":{"field":"t"}}}
]},
{"width":184,"height":40,"data":{"values":[]},"mark":{"type":"rule"},"encoding":{},"view":{"stroke":null}},
{"width":184,"height":108,"view":{"stroke":"#333","strokeWidth":0.7},"resolve":{"axis":{"x":"independent","y":"independent"}},
"layer":[
{"data":{"name":"polyD"},"mark":{"type":"line","filled":true,"stroke":"#444","strokeWidth":0.25},"encoding":{"x":{"field":"km","type":"quantitative","scale":{"domain":[2000,0],"nice":false,"zero":false},"axis":{"orient":"top","values":[2000,1500,1000,500,0],"labelExpr":"datum.value+' km'"}},"y":{"field":"s","type":"quantitative","scale":{"domain":[28.27,28.3904],"reverse":true,"nice":false,"zero":false},"axis":{"orient":"left","values":[28.28,28.3,28.32,28.34,28.36,28.38],"labelExpr":"format(datum.value,'.2f')+' γⁿ'"}},"detail":{"field":"p"},"order":{"field":"i"},"fill":{"field":"v","type":"quantitative","scale":{"type":"threshold","domain":[0.03,0.06,0.09,0.12,0.15,0.18,0.21,0.24,0.27],"range":["#0000a8","#0a3cff","#1e90ff","#14dcff","#55f7b4","#aaff55","#ffe414","#ff8a14","#f01e10","#960a0a"]},"legend":null}}},
{"data":{"name":"stA"},"mark":{"type":"rule","color":"#777","opacity":0.4,"strokeWidth":0.9},"encoding":{"x":{"field":"km","type":"quantitative","axis":{"orient":"bottom","values":[1855,1750,1645,1529,1413,1293,1174,1061,949,835,721,607,493,384,275,159,43],"labelExpr":"{'1855':'49°S','1645':'51°S','1413':'53°S','1174':'55°S','949':'57°S','721':'59°S','493':'61°S','275':'63°S','43':'65°S'}[''+datum.value]||''"}},"y":{"field":"s","type":"quantitative","axis":{"orient":"right","values":[28.28,28.3,28.32,28.34,28.36,28.38],"labels":false}}}},
{"data":{"values":[{"km":20}]},"mark":{"type":"rule","color":"#ddd","strokeWidth":3.5},"encoding":{"x":{"field":"km","type":"quantitative","axis":null}}},
{"data":{"name":"isoD"},"mark":{"type":"line","color":"#333","strokeWidth":0.7},"encoding":{"x":{"field":"km","type":"quantitative","axis":null},"y":{"field":"s","type":"quantitative","axis":null},"detail":{"field":"k"},"order":{"field":"km","sort":"descending"},"strokeDash":{"field":"k","type":"nominal","scale":{"domain":["d","m","h","s"],"range":[[1,1.5],[5,2,1,2],[5,2],[1,0]]},"legend":null}}},
{"data":{"values":[{"km":1652,"s":28.3408,"t":"0.09"}]},"mark":{"type":"text","angle":-75,"fontSize":5.5,"color":"#222"},"encoding":{"x":{"field":"km","type":"quantitative","axis":null},"y":{"field":"s","type":"quantitative","axis":null},"text":{"field":"t"}}},
{"data":{"values":[{"km":1004,"s":28.3352,"t":"0.12"}]},"mark":{"type":"text","angle":-60,"fontSize":5.5,"color":"#222"},"encoding":{"x":{"field":"km","type":"quantitative","axis":null},"y":{"field":"s","type":"quantitative","axis":null},"text":{"field":"t"}}},
{"data":{"values":[{"km":326,"s":28.3184,"t":"0.15"}]},"mark":{"type":"text","angle":-50,"fontSize":5.5,"color":"#222"},"encoding":{"x":{"field":"km","type":"quantitative","axis":null},"y":{"field":"s","type":"quantitative","axis":null},"text":{"field":"t"}}},
{"data":{"values":[{"km":1775,"s":28.2505,"t":"(d)"}]},"mark":{"type":"text","fontSize":15,"color":"#111"},"encoding":{"x":{"field":"km","type":"quantitative","axis":null},"y":{"field":"s","type":"quantitative","axis":null},"text":{"field":"t"}}},
{"data":{"values":[{"km":1000,"s":28.2487,"t":"SF6"}]},"mark":{"type":"text","fontSize":11.5,"color":"#111"},"encoding":{"x":{"field":"km","type":"quantitative","axis":null},"y":{"field":"s","type":"quantitative","axis":null},"text":{"field":"t"}}}
]}
]},
{"bounds":"flush","spacing":0,"resolve":{"scale":{"fill":"independent"}},"vconcat":[
{"width":3,"height":121,"view":{"stroke":"#333","strokeWidth":0.5},"data":{"name":"cbA"},"mark":{"type":"rect"},"encoding":{"y":{"field":"lo","type":"quantitative","scale":{"domain":[0,0.4],"nice":false},"axis":{"orient":"right","values":[0,0.04,0.08,0.12,0.16,0.2,0.24,0.28,0.32,0.36,0.4],"format":".2f","labelFontSize":4.5,"tickSize":1.5,"title":"(p mol/kg)","titleFontSize":5.5,"titleFontWeight":"normal","titleColor":"#222","titleAngle":-90,"titlePadding":6}},"y2":{"field":"hi"},"fill":{"field":"v","type":"quantitative","scale":{"type":"threshold","domain":[0.04,0.08,0.12,0.16,0.2,0.24,0.28,0.32,0.36],"range":["#0000a8","#0a3cff","#1e90ff","#14dcff","#55f7b4","#aaff55","#ffe414","#ff8a14","#f01e10","#960a0a"]},"legend":null}}},
{"width":3,"height":66,"data":{"values":[]},"mark":{"type":"rule"},"encoding":{},"view":{"stroke":null}},
{"width":3,"height":122,"view":{"stroke":"#333","strokeWidth":0.5},"data":{"name":"cbD"},"mark":{"type":"rect"},"encoding":{"y":{"field":"lo","type":"quantitative","scale":{"domain":[0,0.3],"nice":false},"axis":{"orient":"right","values":[0,0.03,0.06,0.09,0.12,0.15,0.18,0.21,0.24,0.27,0.3],"format":".2f","labelFontSize":4.5,"tickSize":1.5,"title":"(f mol/kg)","titleFontSize":5.5,"titleFontWeight":"normal","titleColor":"#222","titleAngle":-90,"titlePadding":6}},"y2":{"field":"hi"},"fill":{"field":"v","type":"quantitative","scale":{"type":"threshold","domain":[0.03,0.06,0.09,0.12,0.15,0.18,0.21,0.24,0.27],"range":["#0000a8","#0a3cff","#1e90ff","#14dcff","#55f7b4","#aaff55","#ffe414","#ff8a14","#f01e10","#960a0a"]},"legend":null}}}
]}
]},
{"bounds":"flush","spacing":0,"resolve":{"scale":{"fill":"independent"}},"vconcat":[
{"width":184,"height":16,"data":{"values":[]},"mark":{"type":"rule"},"encoding":{},"view":{"stroke":null}},
{"width":184,"height":120,"view":{"stroke":"#333","strokeWidth":0.7},"resolve":{"axis":{"x":"independent","y":"independent"}},
"layer":[
{"data":{"name":"polyB"},"mark":{"type":"line","filled":true},"encoding":{"x":{"field":"km","type":"quantitative","scale":{"domain":[2000,0],"nice":false,"zero":false},"axis":{"orient":"top","values":[2000,1500,1000,500,0],"labelExpr":"datum.value+' km'"}},"y":{"field":"d","type":"quantitative","scale":{"domain":[2000,5500],"reverse":true,"nice":false,"zero":false},"axis":{"orient":"right","values":[2000,3000,4000,5000],"labelExpr":"datum.value+' dbar'"}},"detail":{"field":"p"},"order":{"field":"i"},"fill":{"field":"v","type":"quantitative","scale":{"type":"threshold","domain":[0.04,0.08,0.12,0.16,0.2,0.24,0.28,0.32,0.36],"range":["#0000a8","#0a3cff","#1e90ff","#14dcff","#55f7b4","#aaff55","#ffe414","#ff8a14","#f01e10","#960a0a"]},"legend":null}}},
{"data":{"name":"stB"},"mark":{"type":"rule","color":"#333","opacity":0.22,"strokeWidth":0.9},"encoding":{"x":{"field":"km","type":"quantitative","axis":{"orient":"bottom","values":[1873,1753,1634,1520,1406,1293,1181,1067,953,840,728,617,507,395,283,170,58],"labelExpr":"{'1873':'49°S','1634':'51°S','1406':'53°S','1181':'55°S','953':'57°S','728':'59°S','507':'61°S','283':'63°S','58':'65°S'}[''+datum.value]||''"}}}},
{"data":{"name":"iso"},"mark":{"type":"line","color":"#333","strokeWidth":0.6},"encoding":{"x":{"field":"km","type":"quantitative","axis":null},"y":{"field":"d","type":"quantitative","axis":null},"detail":{"field":"k"},"order":{"field":"km","sort":"descending"}}},
{"data":{"name":"topo"},"mark":{"type":"line","filled":true,"fill":"#555555"},"encoding":{"x":{"field":"km","type":"quantitative","axis":null},"y":{"field":"d","type":"quantitative","axis":null},"order":{"field":"i"}}},
{"data":{"name":"isoLbl"},"mark":{"type":"text","angle":-22,"fontSize":5,"color":"#222"},"encoding":{"x":{"field":"km","type":"quantitative","axis":null},"y":{"field":"d","type":"quantitative","axis":null},"text":{"field":"t"}}},
{"data":{"values":[{"km":1786,"d":1396,"t":"(b)"}]},"mark":{"type":"text","fontSize":15,"color":"#111"},"encoding":{"x":{"field":"km","type":"quantitative","axis":null},"y":{"field":"d","type":"quantitative","axis":null},"text":{"field":"t"}}},
{"data":{"values":[{"km":1007,"d":1416,"t":"CFC12"}]},"mark":{"type":"text","fontSize":11.5,"color":"#111"},"encoding":{"x":{"field":"km","type":"quantitative","axis":null},"y":{"field":"d","type":"quantitative","axis":null},"text":{"field":"t"}}}
]},
{"width":184,"height":54,"data":{"values":[]},"mark":{"type":"rule"},"encoding":{},"view":{"stroke":null}},
{"width":184,"height":120,"view":{"stroke":"#333","strokeWidth":0.7},"resolve":{"axis":{"x":"independent","y":"independent"}},
"layer":[
{"data":{"name":"polyE"},"transform":[{"filter":{"field":"p","oneOf":["c"]}}],"mark":{"type":"line","filled":true},"encoding":{"x":{"field":"km","type":"quantitative","scale":{"domain":[2000,0],"nice":false,"zero":false},"axis":{"orient":"top","values":[2000,1500,1000,500,0],"labelExpr":"datum.value+' km'"}},"y":{"field":"d","type":"quantitative","scale":{"domain":[2000,5500],"reverse":true,"nice":false,"zero":false},"axis":{"orient":"right","values":[2000,3000,4000,5000],"labelExpr":"datum.value+' dbar'"}},"detail":{"field":"p"},"order":{"field":"i"},"fill":{"field":"v","type":"quantitative","scale":{"type":"threshold","domain":[0.03,0.06,0.09,0.12,0.15,0.18,0.21,0.24,0.27],"range":["#0000a8","#0a3cff","#1e90ff","#14dcff","#55f7b4","#aaff55","#ffe414","#ff8a14","#f01e10","#960a0a"]},"legend":null}}},
{"data":{"name":"polyE"},"transform":[{"filter":{"not":{"field":"p","oneOf":["c","y2","r2","dr"]}}}],"mark":{"type":"line","filled":true,"interpolate":"cardinal-closed","clip":true},"encoding":{"x":{"field":"km","type":"quantitative","axis":null},"y":{"field":"d","type":"quantitative","axis":null},"detail":{"field":"p"},"order":{"field":"i"},"fill":{"field":"v","type":"quantitative","scale":{"type":"threshold","domain":[0.03,0.06,0.09,0.12,0.15,0.18,0.21,0.24,0.27],"range":["#0000a8","#0a3cff","#1e90ff","#14dcff","#55f7b4","#aaff55","#ffe414","#ff8a14","#f01e10","#960a0a"]},"legend":null}}},
{"data":{"name":"polyE"},"transform":[{"filter":{"field":"p","oneOf":["y2","r2","dr"]}}],"mark":{"type":"line","filled":true},"encoding":{"x":{"field":"km","type":"quantitative","axis":null},"y":{"field":"d","type":"quantitative","axis":null},"detail":{"field":"p"},"order":{"field":"i"},"fill":{"field":"v","type":"quantitative","scale":{"type":"threshold","domain":[0.03,0.06,0.09,0.12,0.15,0.18,0.21,0.24,0.27],"range":["#0000a8","#0a3cff","#1e90ff","#14dcff","#55f7b4","#aaff55","#ffe414","#ff8a14","#f01e10","#960a0a"]},"legend":null}}},
{"data":{"name":"stB"},"mark":{"type":"rule","color":"#333","opacity":0.22,"strokeWidth":0.9},"encoding":{"x":{"field":"km","type":"quantitative","axis":{"orient":"bottom","values":[1873,1753,1634,1520,1406,1293,1181,1067,953,840,728,617,507,395,283,170,58],"labelExpr":"{'1873':'49°S','1634':'51°S','1406':'53°S','1181':'55°S','953':'57°S','728':'59°S','507':'61°S','283':'63°S','58':'65°S'}[''+datum.value]||''"}}}},
{"data":{"name":"iso"},"mark":{"type":"line","color":"#333","strokeWidth":0.6},"encoding":{"x":{"field":"km","type":"quantitative","axis":null},"y":{"field":"d","type":"quantitative","axis":null},"detail":{"field":"k"},"order":{"field":"km","sort":"descending"}}},
{"data":{"name":"topo"},"mark":{"type":"line","filled":true,"fill":"#555555"},"encoding":{"x":{"field":"km","type":"quantitative","axis":null},"y":{"field":"d","type":"quantitative","axis":null},"order":{"field":"i"}}},
{"data":{"name":"isoLbl"},"mark":{"type":"text","angle":-22,"fontSize":5,"color":"#222"},"encoding":{"x":{"field":"km","type":"quantitative","axis":null},"y":{"field":"d","type":"quantitative","axis":null},"text":{"field":"t"}}},
{"data":{"values":[{"km":1786,"d":1592,"t":"(e)"}]},"mark":{"type":"text","fontSize":15,"color":"#111"},"encoding":{"x":{"field":"km","type":"quantitative","axis":null},"y":{"field":"d","type":"quantitative","axis":null},"text":{"field":"t"}}},
{"data":{"values":[{"km":1007,"d":1427,"t":"SF6"}]},"mark":{"type":"text","fontSize":11.5,"color":"#111"},"encoding":{"x":{"field":"km","type":"quantitative","axis":null},"y":{"field":"d","type":"quantitative","axis":null},"text":{"field":"t"}}}
]}
]}
],
"resolve":{"scale":{"fill":"independent","strokeDash":"independent"}}
}
